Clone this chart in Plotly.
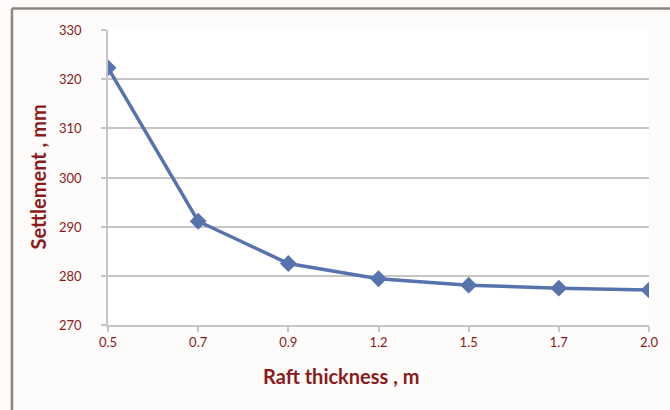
import plotly.graph_objects as go

categories = ["0.5", "0.7", "0.9", "1.2", "1.5", "1.7", "2.0"]
settlement = [322.3, 291.1, 282.5, 279.4, 278.1, 277.5, 277.1]
y_ticks = [270, 280, 290, 300, 310, 320, 330]

red = "#8b1a1a"
grid = "#c8c6c4"
line_color = "#5673ae"
font = "Lato, 'Open Sans', sans-serif"

fig = go.Figure()
fig.add_trace(go.Scatter(
    x=list(range(len(categories))), y=settlement, mode="lines+markers",
    line=dict(color=line_color, width=3.5),
    marker=dict(symbol="diamond", size=13, color=line_color),
    showlegend=False, hoverinfo="skip",
))

# y tick labels placed further from the axis, as in the reference
y_label_annotations = [
    dict(text=str(v), xref="paper", yref="y", x=-(108 - 84) / 541, y=v,
         xanchor="right", yanchor="middle", showarrow=False,
         font=dict(size=13, color=red, family=font))
    for v in y_ticks
]

fig.update_layout(
    width=670, height=410,
    margin=dict(l=108, r=21, t=30, b=85),
    paper_bgcolor="#fdfcfb", plot_bgcolor="#ffffff",
    font=dict(family=font, color=red, size=13),
    xaxis=dict(
        range=[0, 6], tickmode="array", tickvals=list(range(len(categories))),
        ticktext=categories, showgrid=False, zeroline=False,
        showline=True, linecolor=grid, linewidth=1.5,
        ticks="outside", ticklen=5, tickcolor=grid, tickwidth=1.5,
        tickfont=dict(size=13, color=red, family=font),
    ),
    yaxis=dict(
        range=[270, 330], tickvals=y_ticks, showgrid=True, gridcolor=grid,
        gridwidth=1.5, zeroline=False, showline=True, linecolor=grid, linewidth=1.5,
        ticks="outside", ticklen=5, tickcolor=grid, tickwidth=1.5,
        showticklabels=False,
    ),
    shapes=[
        dict(type="line", xref="paper", yref="paper", x0=-0.1775, x1=1.1, y0=1.073, y1=1.073,
             line=dict(color="#8a8580", width=2.5)),
        dict(type="line", xref="paper", yref="paper", x0=-0.1775, x1=-0.1775, y0=-0.35, y1=1.073,
             line=dict(color="#8a8580", width=2.5)),
    ],
    annotations=y_label_annotations + [
        dict(text="<b>Raft thickness , m</b>", xref="paper", yref="paper",
             x=(341 - 108) / 541, y=-(376 - 325) / 295, xanchor="center", yanchor="middle",
             showarrow=False, font=dict(size=20, color=red, family=font)),
        dict(text="<b>Settlement , mm</b>", xref="paper", yref="paper",
             x=-(108 - 37) / 541, y=0.5, xanchor="center", yanchor="middle", textangle=-90,
             showarrow=False, font=dict(size=20, color=red, family=font)),
    ],
)

fig.write_html(
    "out.html",
    config={"displayModeBar": False},
    post_script="document.body.style.margin='0';document.body.style.overflow='hidden';",
)
